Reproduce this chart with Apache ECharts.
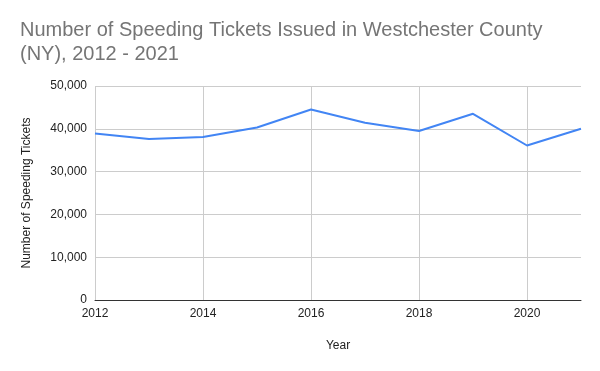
<!DOCTYPE html>
<html><head><meta charset="utf-8">
<script src="https://cdn.jsdelivr.net/npm/echarts@6/dist/echarts.min.js"></script>
<style>html,body{margin:0;padding:0;background:#fff}#c{width:600px;height:371px}</style>
</head><body><div id="c"></div>
<script>
const years = [2012, 2013, 2014, 2015, 2016, 2017, 2018, 2019, 2020, 2021];
const tickets = [38900, 37600, 38100, 40300, 44500, 41400, 39500, 43500, 36100, 40000];
const titleText = 'Number of Speeding Tickets Issued in Westchester County\n(NY), 2012 - 2021';
const chart = echarts.init(document.getElementById('c'), null, {renderer: 'canvas'});
chart.setOption({
  animation: false,
  backgroundColor: '#ffffff',
  title: {
    text: titleText, left: 15, top: 13,
    textStyle: {fontFamily: 'Liberation Sans, Arial', fontSize: 20, fontWeight: 'normal', color: '#757575', lineHeight: 24}
  },
  grid: {left: 95, right: 19, top: 86, bottom: 71, containLabel: false},
  xAxis: {
    type: 'value', min: 2012, max: 2021, interval: 2,
    name: 'Year', nameLocation: 'middle', nameGap: 40,
    nameTextStyle: {fontFamily: 'Liberation Sans, Arial', fontSize: 12, color: '#222'},
    axisLine: {show: true, onZero: false, lineStyle: {color: '#333', width: 1}},
    axisTick: {show: false},
    axisLabel: {fontFamily: 'Liberation Sans, Arial', fontSize: 12, color: '#222', margin: 8,
      showMaxLabel: false, formatter: v => String(v)},
    splitLine: {show: true, showMaxLine: false, lineStyle: {color: '#cccccc', width: 1}}
  },
  yAxis: {
    type: 'value', min: 0, max: 50000, interval: 10000,
    name: 'Number of Speeding Tickets', nameLocation: 'middle', nameGap: 62, nameRotate: 90,
    nameTextStyle: {fontFamily: 'Liberation Sans, Arial', fontSize: 12, color: '#222'},
    axisLine: {show: false}, axisTick: {show: false},
    axisLabel: {fontFamily: 'Liberation Sans, Arial', fontSize: 12, color: '#222', margin: 8,
      formatter: v => v.toLocaleString('en-US')},
    splitLine: {show: true, lineStyle: {color: '#cccccc', width: 1}}
  },
  series: [{
    type: 'line', data: years.map((y, i) => [y, tickets[i]]),
    showSymbol: false, symbol: 'none',
    lineStyle: {color: '#4285f4', width: 2}, itemStyle: {color: '#4285f4'}
  }]
});
</script></body></html>
